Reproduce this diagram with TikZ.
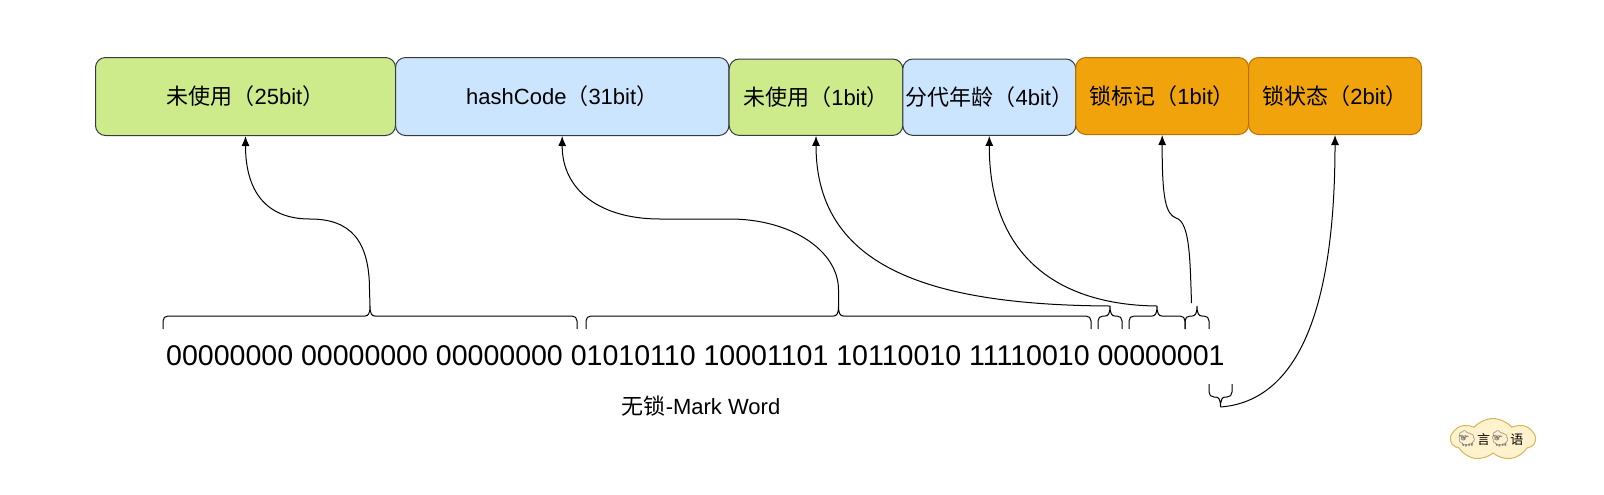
\documentclass[tikz,border=0pt]{standalone}
\usepackage{fontspec}
\setmainfont{Liberation Sans}
\newfontfamily\cjk{Noto Sans CJK SC}
\newfontfamily\emoji{Noto Emoji}
\usetikzlibrary{arrows.meta,shapes.symbols}
\definecolor{boxgreen}{HTML}{CDEB8B}
\definecolor{boxblue}{HTML}{CCE5FF}
\definecolor{boxorange}{HTML}{F0A30A}
\definecolor{edgegray}{HTML}{36393D}
\definecolor{edgeorange}{HTML}{BD7000}
\definecolor{cloudfill}{HTML}{FFF2CC}
\definecolor{cloudedge}{HTML}{D6B656}
\tikzset{
	bitbox/.style={draw,rounded corners=5pt,line width=0.5pt,inner sep=0pt,font=\fontsize{11pt}{13pt}\selectfont},
	greenbox/.style={bitbox,fill=boxgreen,draw=edgegray},
	bluebox/.style={bitbox,fill=boxblue,draw=edgegray},
	orangebox/.style={bitbox,fill=boxorange,draw=edgeorange},
	bitline/.style={line width=0.5pt,black},
	bitarrow/.style={bitline,-{Latex[length=5pt,width=4pt]}}
}
% name, left end, right end, base line, direction
\newcommand{\bitbrace}[5]{%
	\begin{scope}[shift={(0,#4)},yscale=#5]
		\draw[bitline] (#2,0) -- (#2,-8) .. controls (#2,-11) and ({#2+2},-13) .. ({#2+5},-13)
			-- ({(#2+#3)/2-5},-13) .. controls ({(#2+#3)/2-2},-13) and ({(#2+#3)/2},-15) .. ({(#2+#3)/2},-23)
			.. controls ({(#2+#3)/2},-15) and ({(#2+#3)/2+2},-13) .. ({(#2+#3)/2+5},-13)
			-- ({#3-5},-13) .. controls ({#3-2},-13) and (#3,-11) .. (#3,-8) -- (#3,0);
		\coordinate (#1) at ({(#2+#3)/2},-23);
	\end{scope}
}
\begin{document}
\begin{tikzpicture}[x=0.5pt,y=-0.5pt]
	\useasboundingbox (0,0) rectangle (1604,494);
	
	% Draw the header boxes
	\node[greenbox,minimum width=150pt,minimum height=39pt] (unusedhigh) at (245.5,96.5) {{\cjk 未使用（}25bit{\cjk ）}};
	\node[bluebox,minimum width=166.7pt,minimum height=39pt] (hashcode) at (562.2,96.5) {hashCode{\cjk （}31bit{\cjk ）}};
	\node[greenbox,minimum width=86.8pt,minimum height=38.2pt] (unusedlow) at (816,97.2) {{\cjk 未使用（}1bit{\cjk ）}};
	\node[bluebox,minimum width=86.5pt,minimum height=38.2pt] (age) at (989.3,97.2) {{\cjk 分代年龄（}4bit{\cjk ）}};
	\node[orangebox,minimum width=86.4pt,minimum height=38.5pt] (lockmark) at (1162.2,96) {{\cjk 锁标记（}1bit{\cjk ）}};
	\node[orangebox,minimum width=86.5pt,minimum height=38.5pt] (lockstate) at (1335,96) {{\cjk 锁状态（}2bit{\cjk ）}};
	
	% Draw the bits and the title
	\node[inner sep=0pt,font=\fontsize{14.27pt}{16pt}\selectfont] (bits) at (695.5,356) {00000000 00000000 00000000 01010110 10001101 10110010 11110010 00000001};
	\node[inner sep=0pt,font=\fontsize{11pt}{13pt}\selectfont] (title) at (701,406) {{\cjk 无锁}-Mark Word};
	
	% Draw the braces
	\bitbrace{unusedhightip}{163}{577}{329}{1}
	\bitbrace{hashcodetip}{586}{1091}{329}{1}
	\bitbrace{unusedlowtip}{1098}{1122}{329}{1}
	\bitbrace{agetip}{1129}{1185}{329}{1}
	\bitbrace{lockmarktip}{1185}{1209}{329}{1}
	\bitbrace{lockstatetip}{1209}{1232}{384}{-1}
	\coordinate (lockmarkend) at (1191.5,303);
	
	% Draw the connectors
	\draw[bitarrow] (unusedhightip) -- (369.5,290) .. controls (369.5,240) and (350,219) .. (310,219) .. controls (265,219) and (245.5,190) .. (unusedhigh.south);
	\draw[bitarrow] (hashcodetip) -- (838.5,290) .. controls (838.5,250) and (790,219) .. (730,219) -- (660,219) .. controls (600,219) and (562,190) .. (hashcode.south);
	\draw[bitarrow] (unusedlowtip) .. controls (935,305) and (816,270) .. (unusedlow.south);
	\draw[bitarrow] (agetip) .. controls (1060,305) and (989,258) .. (age.south);
	\draw[bitarrow] (lockmarkend) .. controls (1190,260) and (1190,222) .. (1176,218) .. controls (1166,214) and (1162,200) .. (lockmark.south);
	\draw[bitarrow] (lockstatetip) .. controls (1310,400) and (1335,280) .. (lockstate.south);
	
	% Draw the cloud
	\node[cloud,cloud puffs=7,cloud puff arc=100,aspect=2.2,draw=cloudedge,fill=cloudfill,line width=0.5pt,inner sep=0pt,minimum width=42pt,minimum height=21pt] (stamp) at (1493,439.5) {};
	\node[inner sep=0pt,font=\fontsize{6.5pt}{8pt}\selectfont,xshift=-1.5pt] (stamptext) at (stamp) {{\fontsize{8pt}{8pt}\emoji\color{gray}🐑}{\cjk 言}{\fontsize{8pt}{8pt}\emoji\color{gray}🐑}{\cjk 语}};

\end{tikzpicture}
\end{document}
